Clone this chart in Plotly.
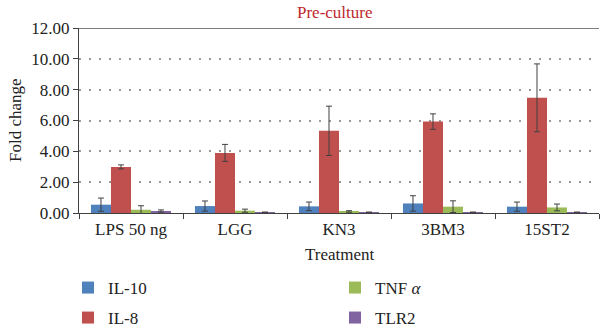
import plotly.graph_objects as go

categories = ["LPS 50 ng", "LGG", "KN3", "3BM3", "15ST2"]
il10 = [0.54, 0.45, 0.43, 0.62, 0.41]
il10_err = [0.43, 0.33, 0.28, 0.50, 0.30]
il8 = [2.99, 3.90, 5.33, 5.93, 7.47]
il8_err = [0.13, 0.55, 1.60, 0.50, 2.20]
tnf = [0.21, 0.15, 0.10, 0.41, 0.36]
tnf_err = [0.26, 0.10, 0.05, 0.38, 0.22]
tlr2 = [0.13, 0.05, 0.05, 0.05, 0.05]
tlr2_err = [0.07, 0.0, 0.0, 0.0, 0.0]
series_names = ["IL-10", "IL-8", "TNF <i>α</i>", "TLR2"]
colors = ["#4F81BD", "#C0504D", "#9BBB59", "#8064A2"]

FONT = "Liberation Serif"
W, H = 600, 329
L, R, T, B = 79, 1, 28, 116
pw, ph = W - L - R, H - T - B

fig = go.Figure()
data = [(il10, il10_err), (il8, il8_err), (tnf, tnf_err), (tlr2, tlr2_err)]
legend_ids = ["legend", "legend2", "legend3", "legend4"]
for i, ((vals, errs), name, col) in enumerate(zip(data, series_names, colors)):
    fig.add_trace(go.Bar(
        x=categories, y=vals, name=name,
        marker=dict(color=col, line=dict(width=0)),
        error_y=dict(type="data", array=errs, visible=True, color="#404040",
                     thickness=1, width=3),
        legend=legend_ids[i],
    ))

def px_x(x):
    return (x - L) / pw

def px_y(y):
    return (H - B - y) / ph

leg_pos = [(68, 288), (68, 318), (335, 288), (335, 318)]
layout_leg = {}
for lid, (lx, ly) in zip(legend_ids, leg_pos):
    layout_leg[lid] = dict(
        x=lx / W, y=1 - ly / H, xanchor="left", yanchor="middle",
        xref="container", yref="container",
        font=dict(family=FONT, size=17, color="#222"),
        bgcolor="rgba(0,0,0,0)", borderwidth=0, itemwidth=30,
    )

fig.update_layout(
    width=W, height=H,
    margin=dict(l=L, r=R, t=T, b=B, pad=0, autoexpand=False),
    paper_bgcolor="white", plot_bgcolor="white",
    barmode="group", bargap=0.23, bargroupgap=0,
    font=dict(family=FONT, size=16, color="#222"),
    showlegend=True,
    **layout_leg,
)
fig.update_xaxes(
    type="category", showline=True, linecolor="#404040", linewidth=1.2,
    ticks="outside", tickson="boundaries", ticklen=5, tickcolor="#404040",
    tickfont=dict(family=FONT, size=17, color="#222"),
    showgrid=False,
)
fig.update_yaxes(
    range=[0, 12], dtick=2, tickformat=".2f",
    showline=True, linecolor="#404040", linewidth=1.2,
    ticks="outside", ticklen=5, tickcolor="#404040",
    tickfont=dict(family=FONT, size=17, color="#222"),
    showgrid=True, gridcolor="#9a9a9a", gridwidth=1.5, griddash="2px,8px",
    zeroline=False,
)
fig.add_shape(type="line", xref="paper", yref="y", x0=0, x1=1, y0=12, y1=12,
              line=dict(color="#555555", width=1.5))
fig.add_annotation(text="Pre-culture", xref="paper", yref="paper",
                   x=px_x(335), y=px_y(12), showarrow=False,
                   xanchor="center", yanchor="middle",
                   font=dict(family=FONT, size=17, color="#C0282D"))
fig.add_annotation(text="Fold change", xref="paper", yref="paper",
                   x=px_x(15), y=px_y(120), showarrow=False, textangle=-90,
                   xanchor="center", yanchor="middle",
                   font=dict(family=FONT, size=17, color="#222"))
fig.add_annotation(text="Treatment", xref="paper", yref="paper",
                   x=px_x(340), y=px_y(254), showarrow=False,
                   xanchor="center", yanchor="middle",
                   font=dict(family=FONT, size=17, color="#222"))

fig.write_html("out.html")
